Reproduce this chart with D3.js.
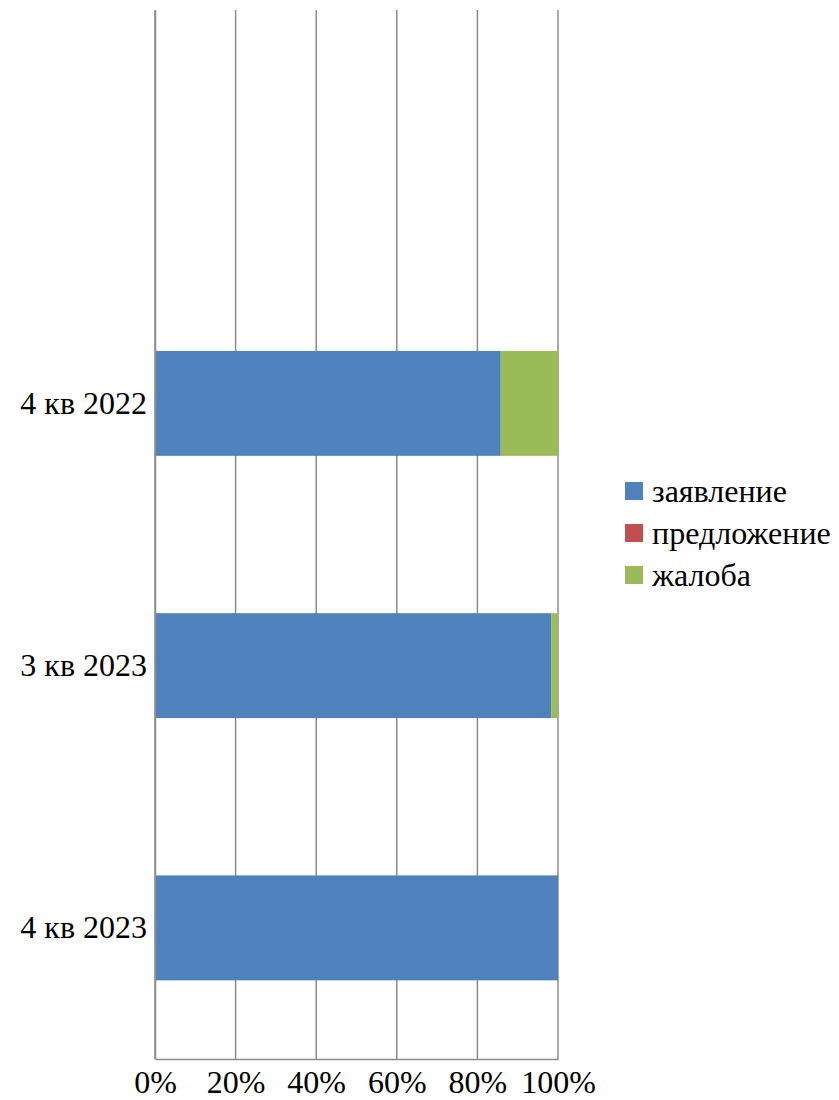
<!DOCTYPE html>
<html>
<head>
<meta charset="utf-8">
<script src="https://cdn.jsdelivr.net/npm/d3@7"></script>
<style>
  body { margin: 0; background: #fff; }
</style>
</head>
<body>
<svg id="chart" width="839" height="1100"></svg>
<script>
const categories = ["", "4 кв 2022", "3 кв 2023", "4 кв 2023"];
const seriesNames = ["заявление", "предложение", "жалоба"];
const zayavlenie = [0, 85.8, 98.3, 100];
const predlozhenie = [0, 0, 0, 0];
const zhaloba = [0, 14.2, 1.7, 0];
const tickValues = [0, 20, 40, 60, 80, 100];
const colors = ["#4F81BD", "#C0504D", "#9BBB59"];

const font = "'Liberation Serif', Tinos, 'Times New Roman', 'DejaVu Serif', serif";
const fontSize = "32px";

const svg = d3.select("#chart");
const plotLeft = 155, plotRight = 558, plotTop = 10, plotBottom = 1059;

const rows = categories.map((c, i) => ({
  cat: c,
  "заявление": zayavlenie[i],
  "предложение": predlozhenie[i],
  "жалоба": zhaloba[i]
}));

const x = d3.scaleLinear().domain([0, 100]).range([plotLeft, plotRight]);
const y = d3.scaleBand().domain(categories).range([plotTop, plotBottom]).paddingInner(0.6).paddingOuter(0.3);

// gridlines
svg.append("g")
  .selectAll("line")
  .data(tickValues)
  .join("line")
  .attr("x1", d => x(d)).attr("x2", d => x(d))
  .attr("y1", plotTop).attr("y2", plotBottom)
  .attr("stroke", "#8c8c8c")
  .attr("stroke-width", 1.5);

// stacked bars
const stack = d3.stack().keys(seriesNames)(rows);
svg.append("g")
  .selectAll("g")
  .data(stack)
  .join("g")
  .attr("fill", (_, i) => colors[i])
  .selectAll("rect")
  .data(d => d)
  .join("rect")
  .attr("x", d => x(d[0]))
  .attr("width", d => x(d[1]) - x(d[0]))
  .attr("y", d => y(d.data.cat))
  .attr("height", y.bandwidth());

// x axis
const xAxis = svg.append("g")
  .attr("transform", `translate(0,${plotBottom})`)
  .call(d3.axisBottom(x).tickValues(tickValues).tickFormat(d => d + "%").tickSize(0).tickPadding(11));
xAxis.attr("font-family", null).attr("font-size", null);
xAxis.select(".domain").attr("stroke", "#8c8c8c").attr("stroke-width", 1.5);
xAxis.selectAll("text")
  .style("font-family", font).style("font-size", fontSize).attr("fill", "#000");

// y axis
const yAxis = svg.append("g")
  .attr("transform", `translate(${plotLeft},0)`)
  .call(d3.axisLeft(y).tickSize(0).tickPadding(8));
yAxis.attr("font-family", null).attr("font-size", null);
yAxis.select(".domain").attr("stroke", "#8c8c8c").attr("stroke-width", 1.5);
yAxis.selectAll("text")
  .style("font-family", font).style("font-size", fontSize).attr("fill", "#000");

// legend
const legend = svg.append("g").attr("transform", "translate(625,491)");
const item = legend.selectAll("g")
  .data(seriesNames)
  .join("g")
  .attr("transform", (_, i) => `translate(0,${i * 42})`);
item.append("rect")
  .attr("x", 0).attr("y", -9)
  .attr("width", 18).attr("height", 18)
  .attr("fill", (_, i) => colors[i]);
item.append("text")
  .attr("x", 27).attr("y", 0).attr("dy", "0.35em")
  .style("font-family", font).style("font-size", fontSize)
  .attr("fill", "#000")
  .text(d => d);
</script>
</body>
</html>
